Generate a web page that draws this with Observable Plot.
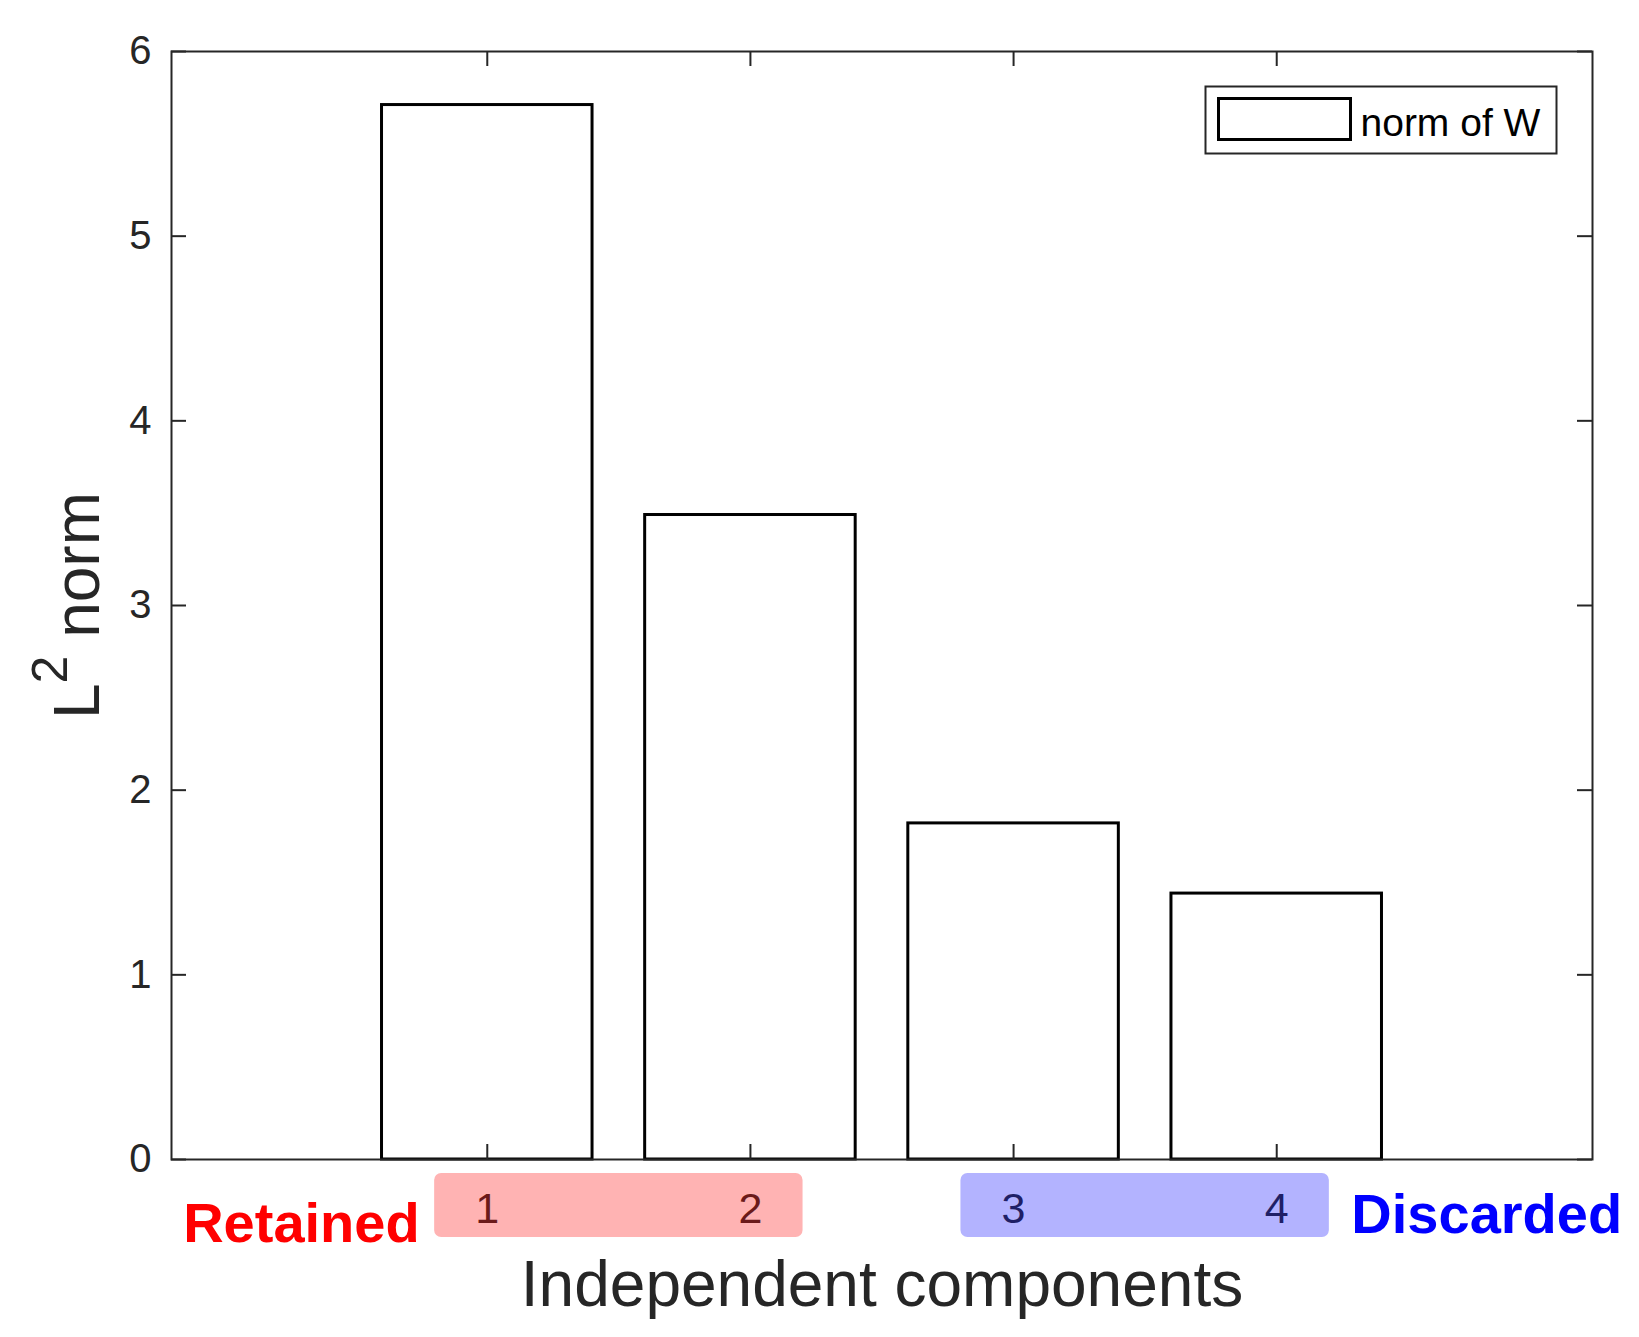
<!DOCTYPE html>
<html>
<head>
<meta charset="utf-8">
<script src="https://cdn.jsdelivr.net/npm/d3@7"></script>
<script src="https://cdn.jsdelivr.net/npm/@observablehq/plot@0.6"></script>
<style>
html, body { margin: 0; padding: 0; background: #ffffff; }
#chart svg { display: block; }
</style>
</head>
<body>
<div id="chart"></div>
<script>
// ---- data ----
const components = [1, 2, 3, 4];
const normValues = [5.71, 3.49, 1.82, 1.44];
const yTicks = [0, 1, 2, 3, 4, 5, 6];
const xTicks = [1, 2, 3, 4];
const retained = [1, 2];
const discarded = [3, 4];
const legendLabel = "norm of W";
const xTitle = "Independent components";
const yTitle = "L2 norm";
const retainedLabel = "Retained";
const discardedLabel = "Discarded";

// ---- layout / style ----
const W = 1639, H = 1337;
const mL = 171, mR = 47, mT = 51, mB = 178;
const frameW = W - mL - mR, frameH = H - mT - mB;
const tickLen = 15;
const xLimits = [-0.2, 5.2];
const yLimits = [0, 6];
const barWidth = 0.8;
const boxPad = 0.2;
const boxTop = -0.076, boxBottom = -0.422;   // annotation strip, y units below the axis
const axisColor = "#262626";

const data = components.map((c, i) => ({c, v: normValues[i]}));

const groupBox = (members, fill) =>
  Plot.rect([members], {
    x1: g => d3.min(g) - boxPad,
    x2: g => d3.max(g) + boxPad,
    y1: () => boxTop,
    y2: () => boxBottom,
    fill, rx: 7
  });

const groupNums = (members, fill) =>
  Plot.text(members, {
    x: d => d, text: d => String(d),
    frameAnchor: "bottom", dy: 63, lineAnchor: "bottom",
    fontSize: 43, fill
  });

const tickStyle = {stroke: axisColor, strokeWidth: 2};

const chart = Plot.plot({
  width: W,
  height: H,
  marginLeft: mL,
  marginRight: mR,
  marginTop: mT,
  marginBottom: mB,
  style: {fontFamily: "'Liberation Sans', Arial, Helvetica, sans-serif", color: axisColor, background: "#ffffff", overflow: "visible"},
  x: {domain: xLimits, axis: null},
  y: {domain: yLimits},
  marks: [
    // bars
    Plot.rect(data, {
      x1: d => d.c - barWidth / 2, x2: d => d.c + barWidth / 2,
      y1: () => 0, y2: "v",
      fill: "white", stroke: "black", strokeWidth: 3
    }),
    // y tick labels
    Plot.axisY(yTicks, {anchor: "left", tickSize: 0, tickPadding: 20, tickFormat: d => String(d), fontSize: 40, fill: axisColor, label: null}),
    // legend
    Plot.frame({insetLeft: 1034, insetRight: 36, insetTop: 35, insetBottom: 1006, fill: "white", stroke: axisColor, strokeWidth: 2}),
    Plot.frame({insetLeft: 1047, insetRight: 242, insetTop: 47, insetBottom: 1020, fill: "white", stroke: "black", strokeWidth: 3}),
    Plot.text([legendLabel], {text: d => d, frameAnchor: "top-left", dx: 1189, dy: 84, textAnchor: "start", lineAnchor: "bottom", fontSize: 39, fill: "black"}),
    // group annotation strip
    groupBox(retained, "#ffb3b3"),
    groupBox(discarded, "#b3b3ff"),
    groupNums(retained, "#6b1a1a"),
    groupNums(discarded, "#1f1f66"),
    Plot.text([retainedLabel], {x: () => d3.min(retained) - boxPad, text: d => d, frameAnchor: "bottom", dx: -15, dy: 82, textAnchor: "end", lineAnchor: "bottom", fontSize: 56, fontWeight: "bold", fill: "#ff0000"}),
    Plot.text([discardedLabel], {x: () => d3.max(discarded) + boxPad, text: d => d, frameAnchor: "bottom", dx: 22, dy: 73, textAnchor: "start", lineAnchor: "bottom", fontSize: 56, fontWeight: "bold", fill: "#0000ff"}),
    // axis titles
    Plot.text([xTitle], {text: d => d, frameAnchor: "bottom", dy: 146, lineAnchor: "bottom", fontSize: 64, fill: axisColor}),
    Plot.text([yTitle], {text: d => d, frameAnchor: "left", rotate: -90, dx: -73, lineAnchor: "bottom", fontSize: 64, fill: axisColor}),
    // frame
    Plot.frame({stroke: axisColor, strokeWidth: 2}),
    // inward ticks on all four sides
    Plot.tickY(yTicks, {y: d => d, insetLeft: 0, insetRight: frameW - tickLen, ...tickStyle}),
    Plot.tickY(yTicks, {y: d => d, insetLeft: frameW - tickLen, insetRight: 0, ...tickStyle}),
    Plot.tickX(xTicks, {x: d => d, insetTop: frameH - tickLen, ...tickStyle}),
    Plot.tickX(xTicks, {x: d => d, insetBottom: frameH - tickLen, ...tickStyle})
  ]
});

document.getElementById("chart").appendChild(chart);

// superscript in the y title: L² norm
d3.select(chart).selectAll("text").filter(function () { return this.textContent === yTitle; })
  .each(function () {
    const t = d3.select(this);
    t.text(null).attr("text-anchor", "middle");
    t.append("tspan").text("L");
    t.append("tspan").attr("font-size", 50).attr("baseline-shift", 32).text("2");
    t.append("tspan").text("\u00A0norm");
  });
</script>
</body>
</html>
